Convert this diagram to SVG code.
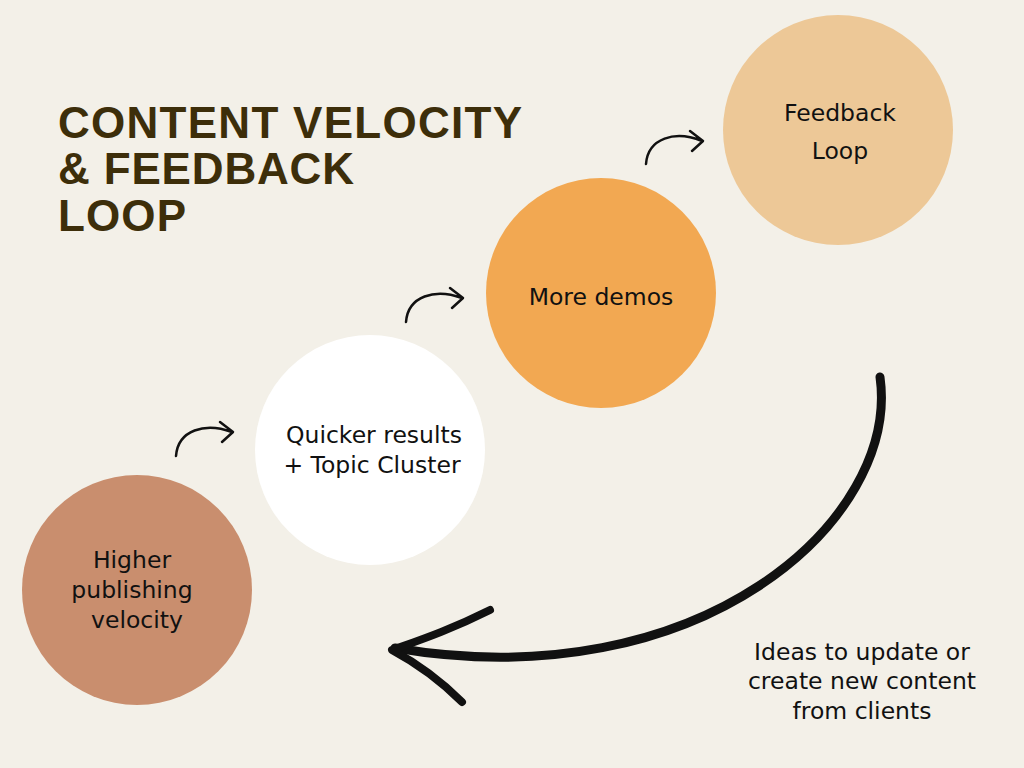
<svg xmlns="http://www.w3.org/2000/svg" width="1024" height="768" viewBox="0 0 1024 768">
<style>
.t{font-family:"Liberation Sans","DejaVu Sans",sans-serif;font-weight:bold;font-size:44px;fill:#3d2e0a}
.l{font-family:"DejaVu Sans","Noto Sans",sans-serif;font-size:23.5px;fill:#111;text-anchor:middle}
.a{fill:none;stroke:#111;stroke-width:2.5;stroke-linecap:round;stroke-linejoin:round}
</style>
<rect width="1024" height="768" fill="#f3f0e8"/>
<text class="t" x="58" y="138" textLength="464">CONTENT VELOCITY</text>
<text class="t" x="58" y="184" textLength="296">&amp; FEEDBACK</text>
<text class="t" x="58" y="231" textLength="128">LOOP</text>
<g id="n1"><circle cx="137" cy="590" r="115" fill="#c98e6e"/><text class="l" x="132" y="568">Higher</text><text class="l" x="132" y="598">publishing</text><text class="l" x="137" y="628">velocity</text></g>
<g id="n2"><circle cx="370" cy="450" r="115" fill="#ffffff"/><text class="l" x="374" y="443">Quicker results</text><text class="l" x="372" y="473">+ Topic Cluster</text></g>
<g id="n3"><circle cx="601" cy="293" r="115" fill="#f2a852"/><text class="l" x="601" y="305">More demos</text></g>
<g id="n4"><circle cx="838" cy="130" r="115" fill="#edc897"/><text class="l" x="840" y="121">Feedback</text><text class="l" x="840" y="159">Loop</text></g>
<g id="connectors">
<path class="a" d="M176 456 C178 430 205 422 232 432 M220 422 L233 432 L222 442"/>
<path class="a" d="M406 322 C408 296 435 288 462 298 M450 288 L463 298 L452 308"/>
<path class="a" d="M646 164 C648 138 675 130 702 141 M690 131 L703 141 L692 151"/>
<path d="M880 377 C900 520 700 700 395 648" fill="none" stroke="#111" stroke-width="9" stroke-linecap="round"/>
<path d="M490 610 C450 630 420 640 392 650 C420 665 445 685 462 702" fill="none" stroke="#111" stroke-width="8" stroke-linecap="round" stroke-linejoin="round"/>
</g>
<text class="l" x="862" y="660">Ideas to update or</text>
<text class="l" x="862" y="689">create new content</text>
<text class="l" x="862" y="719">from clients</text>
</svg>
